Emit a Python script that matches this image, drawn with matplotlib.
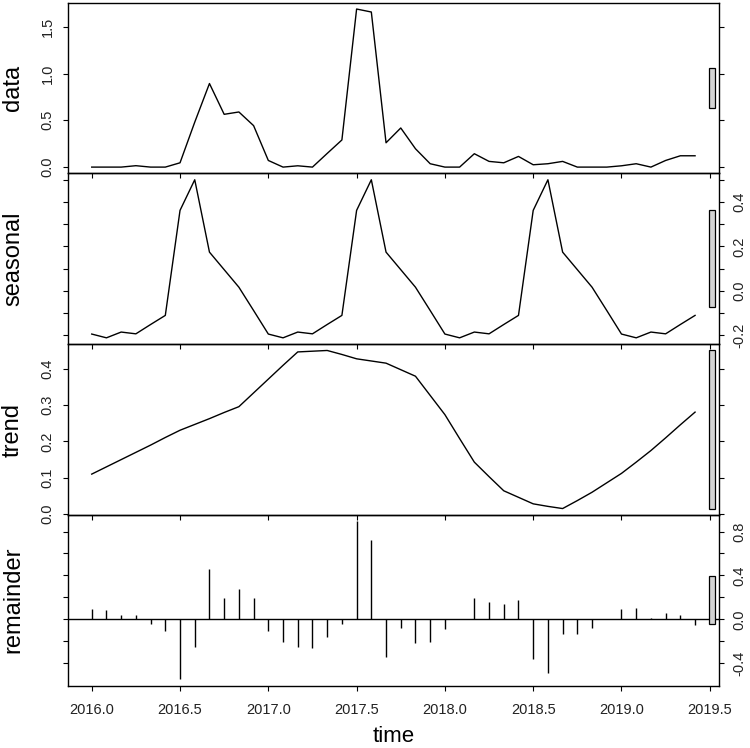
import numpy as np
import matplotlib
matplotlib.use("Agg")
import matplotlib.pyplot as plt
from matplotlib.patches import Rectangle

plt.rcParams['font.family'] = ['Liberation Sans', 'DejaVu Sans']

# monthly series, Jan 2016 .. Jun 2019
start_year = 2016
n_months = 42
time = start_year + np.arange(n_months) / 12

data = [0.00, 0.00, 0.00, 0.015, 0.00, 0.00, 0.046, 0.48, 0.893, 0.564, 0.589, 0.443,
        0.071, 0.00, 0.014, 0.00, 0.146, 0.29, 1.689, 1.657, 0.26, 0.418, 0.196, 0.036,
        0.00, 0.00, 0.143, 0.061, 0.046, 0.114, 0.025, 0.036, 0.061, 0.00, 0.00, 0.00,
        0.014, 0.036, 0.00, 0.071, 0.121, 0.121]

seasonal = [-0.195, -0.212, -0.186, -0.194, -0.152, -0.111, 0.362, 0.500, 0.174, 0.095, 0.016, -0.089,
            -0.195, -0.212, -0.186, -0.194, -0.152, -0.111, 0.362, 0.500, 0.174, 0.095, 0.016, -0.089,
            -0.195, -0.212, -0.186, -0.194, -0.152, -0.111, 0.362, 0.500, 0.174, 0.095, 0.016, -0.089,
            -0.195, -0.212, -0.186, -0.194, -0.152, -0.111]

trend = [0.110, 0.130, 0.150, 0.170, 0.190, 0.211, 0.231, 0.247, 0.263, 0.280, 0.296, 0.334,
         0.372, 0.410, 0.447, 0.449, 0.451, 0.440, 0.428, 0.422, 0.416, 0.398, 0.380, 0.327,
         0.274, 0.208, 0.143, 0.103, 0.064, 0.046, 0.028, 0.021, 0.015, 0.037, 0.060, 0.086,
         0.112, 0.143, 0.175, 0.210, 0.246, 0.281]

remainder = [0.091, 0.085, 0.042, 0.036, -0.042, -0.103, -0.545, -0.248, 0.455, 0.194, 0.279, 0.194,
             -0.109, -0.206, -0.255, -0.261, -0.158, -0.042, 0.894, 0.727, -0.339, -0.076, -0.212, -0.206,
             -0.085, 0.006, 0.194, 0.158, 0.142, 0.176, -0.364, -0.491, -0.133, -0.130, -0.079, 0.003,
             0.094, 0.103, 0.015, 0.061, 0.036, -0.055]

labels = ["data", "seasonal", "trend", "remainder"]
series = [data, seasonal, trend, remainder]

# y ticks per panel (R axis() drops labels that would overlap)
yticks = [[0.0, 0.5, 1.0, 1.5],
          [-0.2, -0.1, 0.0, 0.1, 0.2, 0.3, 0.4, 0.5],
          [0.0, 0.1, 0.2, 0.3, 0.4],
          [-0.4, -0.2, 0.0, 0.2, 0.4, 0.6, 0.8]]
ytick_labels = [["0.0", "0.5", "1.0", "1.5"],
                ["-0.2", "", "0.0", "", "0.2", "", "0.4", ""],
                ["0.0", "0.1", "0.2", "0.3", "0.4"],
                ["-0.4", "", "0.0", "", "0.4", "", "0.8"]]
xticks = [2016.0, 2016.5, 2017.0, 2017.5, 2018.0, 2018.5, 2019.0, 2019.5]

W, H = 750, 748
fig = plt.figure(figsize=(W / 100, H / 100), dpi=100)

left, right = 67.6, 719.2
top, bottom = 2.7, 685.6
ph = (bottom - top) / 4

xpad = 0.04 * (time.max() - time.min())
xlim = (time.min() - xpad, time.max() + xpad)

ranges = [max(s) - min(s) for s in series]
mx = min(ranges)

for i, (lab, s) in enumerate(zip(labels, series)):
    y0 = top + i * ph
    ax = fig.add_axes([left / W, 1 - (y0 + ph) / H, (right - left) / W, ph / H])
    ax.set_facecolor("none")
    s = np.asarray(s)
    if i < 3:
        ax.plot(time, s, color="black", lw=1.0)
    else:
        ax.vlines(time, 0, s, color="black", lw=1.0)
        ax.axhline(0, color="black", lw=1.0)
    ypad = 0.04 * (s.max() - s.min())
    ax.set_ylim(s.min() - ypad, s.max() + ypad)
    ax.set_xlim(xlim)

    # range bar
    dx = (xlim[1] - xlim[0]) / 64
    ym = (s.max() + s.min()) / 2
    ax.add_patch(Rectangle((xlim[1] - dx, ym - mx / 2), 0.6 * dx, mx,
                           facecolor="#D3D3D3", edgecolor="black", lw=0.9,
                           clip_on=False, zorder=3))

    for sp in ax.spines.values():
        sp.set_linewidth(1.0)

    ax.set_yticks(yticks[i])
    ax.set_yticklabels(ytick_labels[i], rotation=90, va="center", fontsize=10.5,
                       color="#222222")
    is_right = i % 2 == 1
    ax.tick_params(axis="y", which="both", direction="out", length=3.5, width=0.8,
                   left=True, right=True, labelleft=not is_right, labelright=is_right, pad=6)
    ax.set_xticks(xticks)
    ax.tick_params(axis="x", direction="out", length=3.5, width=0.8,
                   labelbottom=(i == 3), pad=9, labelsize=10.5)
    if i == 3:
        ax.set_xticklabels(["%.1f" % v for v in xticks], color="#222222")

    fig.text(13 / W, 1 - (y0 + ph / 2) / H, lab, rotation=90, ha="center", va="center",
             fontsize=17)

fig.text((left + right) / 2 / W, 1 - 737 / H, "time", ha="center", va="center", fontsize=16)

fig.savefig("out.png", dpi=100)
